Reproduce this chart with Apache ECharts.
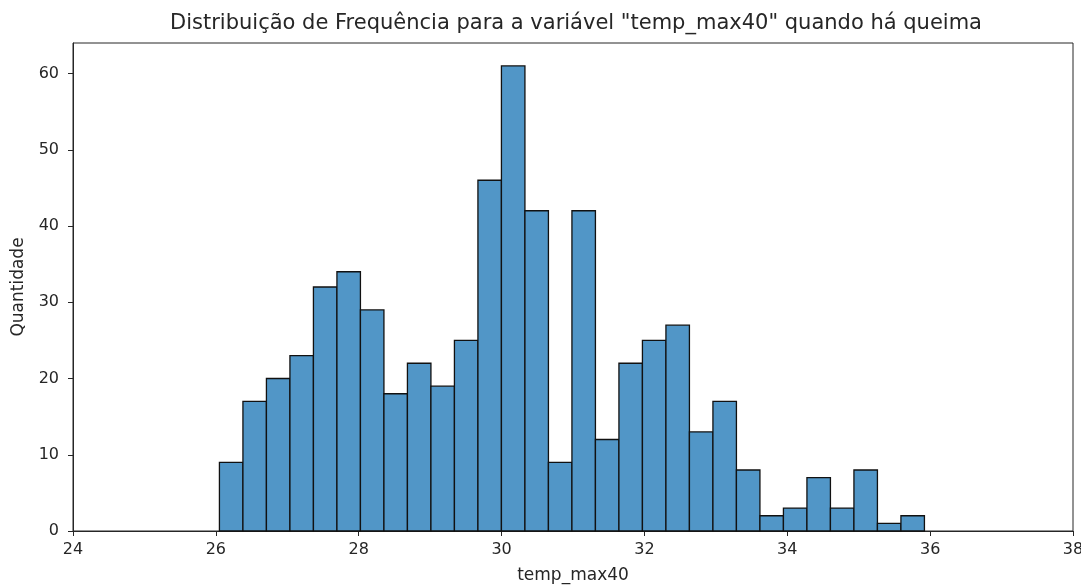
<!DOCTYPE html>
<html>
<head>
<meta charset="utf-8">
<script src="https://cdn.jsdelivr.net/npm/echarts@6/dist/echarts.min.js"></script>
<style>
  html, body { margin: 0; padding: 0; background: #fff; }
  #chart { width: 1081px; height: 588px; }
</style>
</head>
<body>
<div id="chart"></div>
<script>
// Histogram of temp_max40 (records with burning)
const binStart = 26.05;
const binWidth = 0.329;
const counts = [9, 17, 20, 23, 32, 34, 29, 18, 22, 19, 25, 46, 61, 42, 9, 42, 12, 22, 25, 27, 13, 17, 8, 2, 3, 7, 3, 8, 1, 2];
const yTicks = [0, 10, 20, 30, 40, 50, 60];
const xTicks = [24, 26, 28, 30, 32, 34, 36, 38];

const bins = counts.map((c, i) => [binStart + i * binWidth, binStart + (i + 1) * binWidth, c]);

const font = 'DejaVu Sans';
const ink = '#262626';
const chart = echarts.init(document.getElementById('chart'), null, { renderer: 'canvas' });
chart.setOption({
  animation: false,
  backgroundColor: '#ffffff',
  title: {
    text: 'Distribuição de Frequência para a variável "temp_max40" quando há queima',
    left: 571,
    textAlign: 'center',
    top: 8,
    textStyle: { fontFamily: font, fontSize: 21, fontWeight: 'normal', color: ink }
  },
  grid: {
    left: 73, right: 8, top: 43, bottom: 57,
    outerBoundsMode: 'none',
    containLabel: false,
    show: true, borderColor: ink, borderWidth: 1, backgroundColor: 'transparent'
  },
  xAxis: {
    type: 'value', min: 24, max: 38, interval: 2,
    name: 'temp_max40', nameLocation: 'middle', nameGap: 36,
    nameTextStyle: { fontFamily: font, fontSize: 17, color: ink },
    axisLine: { show: true, onZero: false, lineStyle: { color: ink, width: 1 } },
    axisTick: { show: true, length: 5, lineStyle: { color: ink }, customValues: xTicks },
    axisLabel: { fontFamily: font, fontSize: 16, color: ink, margin: 11, customValues: xTicks },
    splitLine: { show: false }
  },
  yAxis: {
    type: 'value', min: 0, max: 64,
    name: 'Quantidade', nameLocation: 'middle', nameGap: 46, nameRotate: 90,
    nameTextStyle: { fontFamily: font, fontSize: 17, color: ink },
    axisLine: { show: true, lineStyle: { color: ink, width: 1 } },
    axisTick: { show: true, length: 5, lineStyle: { color: ink }, customValues: yTicks },
    axisLabel: { fontFamily: font, fontSize: 16, color: ink, margin: 14, customValues: yTicks },
    splitLine: { show: false }
  },
  series: [{
    type: 'custom',
    data: bins,
    encode: { x: [0, 1], y: 2 },
    renderItem: function (params, api) {
      const p0 = api.coord([api.value(0), 0]);
      const p1 = api.coord([api.value(1), api.value(2)]);
      return {
        type: 'rect',
        shape: { x: p0[0], y: p1[1], width: p1[0] - p0[0], height: p0[1] - p1[1] },
        style: { fill: '#5196c7', stroke: '#111', lineWidth: 1.3 }
      };
    }
  }]
});
</script>
</body>
</html>
